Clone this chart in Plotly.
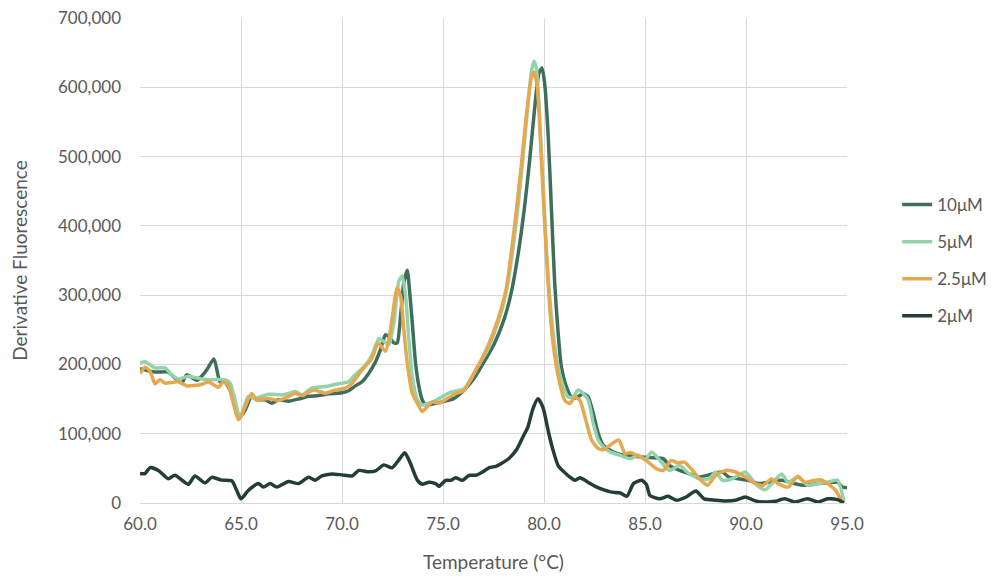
import plotly.graph_objects as go

# ---- data (temperature in °C, derivative fluorescence in thousands) ----
t_10 = [60.0, 60.74, 61.4, 61.56, 62.06, 62.31, 62.8, 63.05, 63.3, 63.66, 63.96, 64.21, 64.46, 64.7, 64.9,
        65.2, 65.53, 65.78, 66.2, 66.52, 66.85, 67.35, 67.85, 68.34, 68.84, 69.34, 70.0, 70.33, 70.66, 70.99,
        71.32, 71.66, 71.9, 72.15, 72.32, 72.57, 72.73, 72.9, 73.06, 73.23, 73.34, 73.48, 73.64, 73.81, 73.97,
        74.14, 74.47, 74.97, 75.55, 76.05, 76.54, 77.04, 77.54, 78.04, 78.37, 78.7, 79.04, 79.29, 79.53,
        79.75, 79.9, 80.03, 80.2, 80.37, 80.53, 80.7, 80.86, 81.11, 81.36, 81.61, 81.94, 82.19, 82.44, 82.69,
        82.94, 83.45, 83.94, 84.43, 85.0, 85.57, 85.9, 86.22, 86.71, 87.2, 87.69, 88.34, 88.83, 89.15, 89.64,
        90.13, 90.62, 91.11, 91.76, 92.41, 92.9, 93.55, 94.04, 94.53, 94.77, 95.0]
v_10 = [194, 189, 189, 185, 173, 185, 177, 183, 192, 208, 175, 174, 163, 139, 122,
        134, 154, 149, 149, 144, 149, 147, 150, 154, 155, 157.5, 159, 162, 169, 175,
        187, 204, 221, 243, 240, 231, 231, 270, 318, 336, 308, 260, 202, 168, 149,
        141.5, 143, 146, 151, 163, 180, 204, 230, 266.5, 302.6, 355.7, 428, 495, 567.7,
        620.7, 628, 606, 534, 423, 317, 245, 196.6, 167.7, 153, 152, 158, 153, 129, 100,
        83, 73.5, 68.8, 67.5, 66, 65, 64, 54, 47, 42, 37.5, 42, 44.7, 37.5, 35,
        32.7, 28, 30, 32.7, 28, 25.5, 28, 29, 30, 23, 22]

t_5 = [60.0, 60.25, 60.74, 61.24, 61.57, 61.9, 62.39, 63.05, 63.71, 64.21, 64.46, 64.7, 64.95, 65.36, 65.69,
       66.35, 67.01, 67.35, 67.68, 68.01, 68.51, 69.17, 69.83, 70.33, 70.66, 71.16, 71.49, 71.82, 72.07,
       72.32, 72.57, 72.81, 72.98, 73.15, 73.31, 73.48, 73.73, 73.97, 74.3, 74.64, 75.05, 75.38, 76.05,
       76.71, 77.21, 77.87, 78.21, 78.54, 78.87, 79.12, 79.37, 79.5, 79.62, 79.78, 79.95, 80.12, 80.37,
       80.61, 80.86, 81.2, 81.45, 81.69, 81.94, 82.19, 82.44, 82.69, 82.94, 83.29, 83.78, 84.27, 84.67,
       85.0, 85.33, 85.73, 86.22, 86.71, 87.2, 87.69, 88.18, 88.5, 88.83, 89.32, 89.97, 90.46, 90.94,
       91.35, 91.76, 92.08, 92.57, 93.06, 93.55, 94.04, 94.53, 94.85]
v_5 = [202, 204, 195, 195, 185, 179, 183, 179, 178, 178, 173, 149, 122, 154, 151,
       157, 156, 158, 161, 156, 166, 168, 172, 175, 185, 199, 214, 237, 233,
       228.5, 260, 320, 327.5, 298.5, 236, 182.6, 149, 141.5, 144, 148, 155, 160, 165,
       196.6, 220.7, 273.7, 317, 384.6, 471, 548, 620.7, 637.6, 628, 558, 461.7, 365, 269,
       211, 177, 153, 153, 163, 158, 148.5, 114.7, 90.6, 81, 73.5, 68.8, 64, 68.8,
       62.5, 73.5, 61.5, 47, 54, 42, 35, 35, 44.7, 32.7, 35, 44.7, 28, 19,
       30, 42, 30, 37.5, 25.5, 28, 30, 32.7, 2]

t_25 = [60.0, 60.25, 60.5, 60.74, 60.99, 61.24, 61.9, 62.31, 63.05, 63.38, 63.88, 64.13, 64.37, 64.62, 64.87,
        65.2, 65.53, 65.78, 66.35, 66.85, 67.35, 67.68, 68.01, 68.59, 69.17, 69.67, 70.17, 70.5, 70.99,
        71.49, 71.79, 72.15, 72.4, 72.73, 72.9, 73.06, 73.23, 73.48, 73.73, 73.97, 74.22, 74.47, 74.8,
        75.05, 75.55, 76.05, 76.54, 77.21, 77.71, 78.12, 78.54, 78.87, 79.12, 79.37, 79.5, 79.67, 79.83,
        80.0, 80.2, 80.45, 80.78, 81.03, 81.28, 81.53, 81.78, 82.03, 82.36, 82.69, 82.96, 83.37, 83.7,
        84.02, 84.27, 84.59, 84.84, 85.16, 85.57, 85.9, 86.3, 86.63, 86.95, 87.36, 87.69, 88.09, 88.5,
        88.99, 89.48, 89.97, 90.46, 90.86, 91.27, 91.6, 92.08, 92.57, 92.9, 93.39, 93.71, 94.04, 94.45,
        94.77, 94.85]
v_25 = [187, 196, 190, 172, 178, 173, 175, 169, 171, 175, 167, 175, 170, 144, 120,
        139, 158, 149, 151, 148, 153.6, 158.5, 155, 163, 158.5, 163, 165.7, 173, 192,
        209, 231, 219, 250, 310.6, 298.5, 250, 202, 158, 144, 132, 139, 146, 144,
        148, 157, 163, 187, 225.5, 264, 307.5, 399, 485.8, 558, 613.5, 621.7, 601, 519.5,
        423, 317, 230, 172.5, 148, 143.6, 153, 148, 124, 90.6, 78.5, 77, 85.6, 91,
        71, 73, 68.8, 66, 59, 49.5, 47, 61.5, 57.7, 59, 47, 35, 25.5, 40,
        47, 44.7, 37.5, 28, 25.5, 35, 28, 23, 38.5, 30, 32.7, 33.6, 28, 18,
        1.5, 1]

t_2 = [60.0, 60.25, 60.5, 60.91, 61.4, 61.73, 62.39, 62.72, 63.22, 63.55, 64.04, 64.54, 64.79, 65.0, 65.36,
       65.86, 66.11, 66.44, 66.77, 67.35, 67.85, 68.34, 68.67, 69.0, 69.5, 70.0, 70.5, 70.83, 71.32, 71.66,
       72.07, 72.48, 72.81, 73.11, 73.39, 73.73, 73.97, 74.3, 74.63, 74.8, 75.13, 75.38, 75.63, 75.96,
       76.3, 76.63, 76.96, 77.29, 77.62, 77.87, 78.29, 78.62, 78.95, 79.2, 79.45, 79.7, 79.95, 80.2,
       80.45, 80.7, 80.95, 81.28, 81.53, 81.78, 82.03, 82.28, 82.61, 82.8, 83.29, 83.78, 84.1, 84.43,
       84.84, 85.08, 85.24, 85.73, 86.14, 86.55, 87.04, 87.52, 87.93, 88.5, 88.99, 89.48, 89.97, 90.46,
       90.94, 91.43, 91.92, 92.41, 93.06, 93.55, 94.04, 94.53, 94.85]
v_2 = [42.5, 42.5, 51, 47, 35, 40, 27, 39, 29, 37, 33, 32, 18, 6, 18,
       28, 23, 28, 23, 31, 28, 37, 33, 39, 42, 40.6, 39, 47, 45, 46.4,
       55, 50.7, 62, 72.5, 57, 33, 27, 30, 28, 24, 32.7, 32.7, 36.5, 32.7,
       40, 40, 44.7, 51, 53, 56.7, 65, 76, 95, 109.6, 136, 150.5, 138, 105,
       76, 54, 46, 37.5, 32.7, 36.5, 32.7, 28, 23, 20.7, 16, 14.4, 9.6, 28,
       32.7, 26, 11, 6, 9.6, 4, 8.7, 17.3, 6, 4, 3, 4, 8.7, 3,
       1.5, 2.4, 6, 1.5, 6, 1.5, 6, 4.8, 0]

series_names = ["10μM", "5μM", "2.5μM", "2μM"]
series_t = [t_10, t_5, t_25, t_2]
series_v = [v_10, v_5, v_25, v_2]
colors = ["#3F6E5C", "#93D3A9", "#E5A84E", "#243E32"]

x_ticks = [60, 65, 70, 75, 80, 85, 90, 95]
y_ticks = [0, 100000, 200000, 300000, 400000, 500000, 600000, 700000]

FONT = "Lato, 'Open Sans', sans-serif"
GREY = "#595959"

fig = go.Figure()
for name, t, v, c in zip(series_names, series_t, series_v, colors):
    fig.add_trace(go.Scatter(
        x=t, y=[val * 1000 for val in v], mode="lines", name=name,
        legendgroup=name,
        line=dict(color=c, width=3.5, shape="spline", smoothing=0.6),
    ))

fig.update_layout(
    width=987, height=571,
    margin=dict(l=132, r=148, t=10, b=76, autoexpand=False),
    paper_bgcolor="white", plot_bgcolor="white",
    font=dict(family=FONT, color=GREY, size=17),
    showlegend=True,
    legend=dict(x=1.071, xanchor="left", y=0.5, yanchor="middle",
                font=dict(size=17, color=GREY), tracegroupgap=12,
                bgcolor="rgba(0,0,0,0)"),
    xaxis=dict(range=[60, 95], tickvals=x_ticks, tickformat=".1f",
               showgrid=True, gridcolor="#D9D9D9", gridwidth=1,
               showline=True, linecolor="#D9D9D9", linewidth=1,
               zeroline=False, ticks="", ticklabelstandoff=6, automargin=False,
               ticklabeloverflow="allow",
               tickfont=dict(size=17, color=GREY),
               title=dict(text="Temperature (°C)", font=dict(size=19, color=GREY), standoff=22)),
    yaxis=dict(range=[0, 700000], tickvals=y_ticks, tickformat=",d",
               showgrid=True, gridcolor="#D9D9D9", gridwidth=1,
               zeroline=True, zerolinecolor="#D9D9D9", zerolinewidth=1,
               showline=False, ticks="", ticklabelstandoff=18, automargin=False,
               ticklabeloverflow="allow",
               tickfont=dict(size=17, color=GREY),
               title=dict(text="Derivative Fluorescence", font=dict(size=19, color=GREY), standoff=26)),
)

fig.write_html("out.html")
